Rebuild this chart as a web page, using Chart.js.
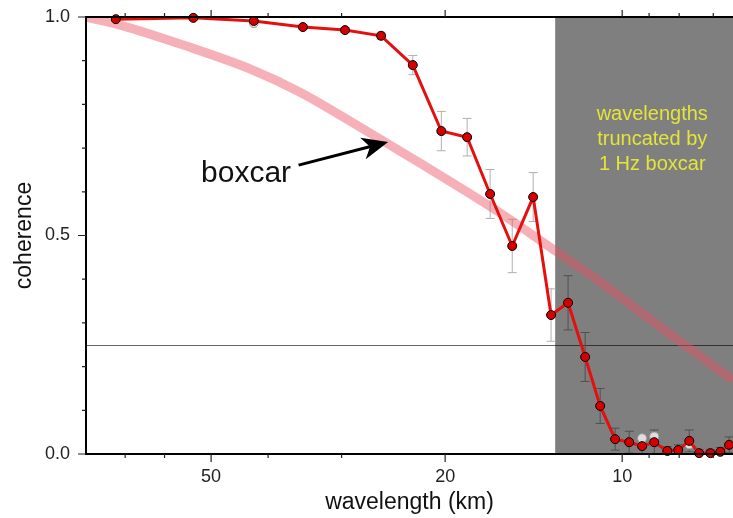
<!DOCTYPE html>
<html>
<head>
<meta charset="utf-8">
<script src="https://cdn.jsdelivr.net/npm/chart.js@4.4.1/dist/chart.umd.min.js"></script>
<style>
  html, body { margin: 0; padding: 0; background: #fff; }
  canvas { display: block; }
</style>
</head>
<body>
<canvas id="coh" width="733" height="518"></canvas>
<script>
// coherence estimates
const wavelengths = [72.6, 53.6, 42.3, 34.9, 29.6, 25.7, 22.7, 20.3, 18.35, 16.77, 15.38, 14.17, 13.21, 12.36, 11.56, 10.90, 10.28, 9.73, 9.25, 8.82, 8.38, 8.03, 7.69, 7.40, 7.08, 6.81, 6.58];
const coherence = [0.995, 0.998, 0.991, 0.977, 0.970, 0.957, 0.890, 0.739, 0.725, 0.595, 0.476, 0.588, 0.318, 0.346, 0.222, 0.110, 0.034, 0.027, 0.018, 0.027, 0.007, 0.009, 0.030, 0.002, 0.002, 0.005, 0.021];
const coherenceErr = [0.003, 0.003, 0.004, 0.005, 0.006, 0.008, 0.022, 0.045, 0.043, 0.056, 0.061, 0.056, 0.060, 0.062, 0.056, 0.040, 0.025, 0.025, 0.022, 0.028, 0.010, 0.012, 0.025, 0.008, 0.008, 0.010, 0.018];

// faint grey estimates peeking out behind the red ones
const greyWavelengths = [42.3, 9.25, 8.82, 7.69];
const greyCoherence = [0.986, 0.036, 0.040, 0.022];

// theoretical boxcar coherence
const boxcarWavelengths = [81.6, 69.5, 56.4, 42.9, 35.3, 27.9, 22.1, 16.1, 12.9, 10.9, 9.32, 7.75, 6.48];
const boxcarCoherence = [1.0, 0.977, 0.938, 0.881, 0.828, 0.748, 0.666, 0.551, 0.462, 0.394, 0.325, 0.245, 0.169];

const referenceLevel = 0.25;
const truncationWavelength = 13.0;

const xMin = 6.48;
const xMax = 81.6;
const xTickValues = [7, 8, 9, 10, 20, 30, 40, 50, 60, 70];
const xTickLabels = [10, 20, 50];
const yMajorTicks = [0, 0.5, 1.0];
const yMinorTicks = [0.1, 0.2, 0.3, 0.4, 0.6, 0.7, 0.8, 0.9];

const FONT = '"Liberation Sans", Arial, Helvetica, sans-serif';

const decorations = {
  id: 'decorations',
  beforeDatasetsDraw(chart) {
    const { ctx, chartArea: a, scales: { x, y } } = chart;
    ctx.save();

    // shaded band: wavelengths truncated by the boxcar
    const xs = x.getPixelForValue(truncationWavelength);
    ctx.fillStyle = '#7f7f7f';
    ctx.fillRect(xs, a.top, a.right - xs, a.bottom - a.top);

    // label inside the band
    ctx.fillStyle = '#e4e43a';
    ctx.font = '20px ' + FONT;
    ctx.textAlign = 'center';
    ctx.textBaseline = 'alphabetic';
    const tx = x.getPixelForValue(8.89);
    ctx.fillText('wavelengths', tx, y.getPixelForValue(0.764));
    ctx.fillText('truncated by', tx, y.getPixelForValue(0.707));
    ctx.fillText('1 Hz boxcar', tx, y.getPixelForValue(0.650));

    // reference level
    const yr = Math.round(y.getPixelForValue(referenceLevel)) + 0.5;
    ctx.strokeStyle = 'rgba(0,0,0,0.6)';
    ctx.lineWidth = 1.2;
    ctx.beginPath();
    ctx.moveTo(a.left, yr);
    ctx.lineTo(a.right, yr);
    ctx.stroke();

    // error bars
    ctx.lineWidth = 1;
    wavelengths.forEach((w, i) => {
      const px = x.getPixelForValue(w);
      const lo = y.getPixelForValue(Math.max(0, coherence[i] - coherenceErr[i]));
      const hi = y.getPixelForValue(coherence[i] + coherenceErr[i]);
      ctx.strokeStyle = w < truncationWavelength ? '#505050' : '#b0b0b0';
      ctx.beginPath();
      ctx.moveTo(px, lo); ctx.lineTo(px, hi);
      ctx.moveTo(px - 4.5, lo); ctx.lineTo(px + 4.5, lo);
      ctx.moveTo(px - 4.5, hi); ctx.lineTo(px + 4.5, hi);
      ctx.stroke();
    });
    ctx.restore();
  },
  afterDatasetsDraw(chart) {
    const { ctx, chartArea: a, scales: { x, y } } = chart;
    ctx.save();

    // frame
    ctx.strokeStyle = '#000';
    ctx.lineWidth = 2;
    ctx.beginPath();
    ctx.moveTo(a.right, a.top); ctx.lineTo(a.left, a.top);
    ctx.lineTo(a.left, a.bottom); ctx.lineTo(a.right, a.bottom);
    ctx.stroke();

    // tick marks
    ctx.lineWidth = 1.2;
    ctx.strokeStyle = '#222';
    ctx.beginPath();
    yMajorTicks.forEach(v => {
      const py = y.getPixelForValue(v);
      ctx.moveTo(a.left - 8, py); ctx.lineTo(a.left, py);
    });
    yMinorTicks.forEach(v => {
      const py = y.getPixelForValue(v);
      ctx.moveTo(a.left - 4, py); ctx.lineTo(a.left, py);
    });
    xTickValues.forEach(v => {
      const px = x.getPixelForValue(v);
      const major = xTickLabels.includes(v);
      ctx.moveTo(px, a.bottom); ctx.lineTo(px, a.bottom + (major ? 8 : 4));
      ctx.moveTo(px, a.top); ctx.lineTo(px, a.top - (major ? 7 : 4));
    });
    ctx.stroke();

    // "boxcar" annotation with arrow
    ctx.fillStyle = '#111';
    ctx.font = '30px ' + FONT;
    ctx.textAlign = 'center';
    ctx.textBaseline = 'alphabetic';
    ctx.fillText('boxcar', x.getPixelForValue(43.6), y.getPixelForValue(0.622));

    const sx = x.getPixelForValue(35.5), sy = y.getPixelForValue(0.661);
    const ex = x.getPixelForValue(25.0), ey = y.getPixelForValue(0.714);
    const len = Math.hypot(ex - sx, ey - sy);
    const ux = (ex - sx) / len, uy = (ey - sy) / len;
    const nx = -uy, ny = ux;
    const L = 26, W = 11;
    ctx.strokeStyle = '#000';
    ctx.lineWidth = 3;
    ctx.beginPath();
    ctx.moveTo(sx, sy);
    ctx.lineTo(ex - ux * L * 0.7, ey - uy * L * 0.7);
    ctx.stroke();
    ctx.fillStyle = '#000';
    ctx.beginPath();
    ctx.moveTo(ex, ey);
    ctx.lineTo(ex - ux * L + nx * W, ey - uy * L + ny * W);
    ctx.lineTo(ex - ux * L * 0.72, ey - uy * L * 0.72);
    ctx.lineTo(ex - ux * L - nx * W, ey - uy * L - ny * W);
    ctx.closePath();
    ctx.fill();

    ctx.restore();
  }
};

new Chart(document.getElementById('coh'), {
  type: 'line',
  data: {
    datasets: [
      {
        label: 'boxcar',
        data: boxcarWavelengths.map((w, i) => ({ x: w, y: boxcarCoherence[i] })),
        borderColor: 'rgba(235, 80, 95, 0.45)',
        borderWidth: 9,
        pointRadius: 0,
        cubicInterpolationMode: 'monotone',
        order: 3,
      },
      {
        label: 'grey',
        data: greyWavelengths.map((w, i) => ({ x: w, y: greyCoherence[i] })),
        showLine: false,
        pointRadius: 4.5,
        pointBackgroundColor: '#dedede',
        pointBorderColor: '#a0a0a0',
        pointBorderWidth: 1,
        order: 2,
      },
      {
        label: 'coherence',
        data: wavelengths.map((w, i) => ({ x: w, y: coherence[i] })),
        borderColor: '#e41010',
        borderWidth: 3,
        pointRadius: 4.5,
        pointBackgroundColor: '#d40000',
        pointBorderColor: '#000',
        pointBorderWidth: 1,
        clip: false,
        order: 1,
      },
    ],
  },
  options: {
    responsive: false,
    animation: false,
    devicePixelRatio: 1,
    layout: { autoPadding: false, padding: { top: 17, right: 0, left: 0, bottom: 0 } },
    plugins: {
      legend: { display: false },
      tooltip: { enabled: false },
    },
    scales: {
      x: {
        type: 'logarithmic',
        reverse: true,
        min: xMin,
        max: xMax,
        grid: { display: false, drawTicks: false },
        border: { display: false },
        afterBuildTicks: s => { s.ticks = xTickValues.map(v => ({ value: v })); },
        afterFit: s => {
          s.height = 64;
          s.paddingLeft = 0;
          s.paddingRight = 0;
        },
        ticks: {
          autoSkip: false,
          maxRotation: 0,
          padding: 12,
          color: '#222',
          font: { family: FONT, size: 18 },
          callback: v => (xTickLabels.includes(v) ? String(v) : ''),
        },
        title: {
          display: true,
          text: 'wavelength (km)',
          color: '#111',
          font: { family: FONT, size: 23 },
          padding: { top: 0, bottom: 2 },
        },
      },
      y: {
        min: 0,
        max: 1,
        grid: { display: false, drawTicks: false },
        border: { display: false },
        afterBuildTicks: s => { s.ticks = yMajorTicks.map(v => ({ value: v })); },
        afterFit: s => {
          s.width = 86;
          s.paddingTop = 0;
          s.paddingBottom = 0;
        },
        ticks: {
          padding: 16,
          color: '#222',
          font: { family: FONT, size: 18 },
          callback: v => v.toFixed(1),
        },
        title: {
          display: true,
          text: 'coherence',
          color: '#111',
          font: { family: FONT, size: 23 },
          padding: { top: 11, bottom: 0 },
        },
      },
    },
  },
  plugins: [decorations],
});
</script>
</body>
</html>
